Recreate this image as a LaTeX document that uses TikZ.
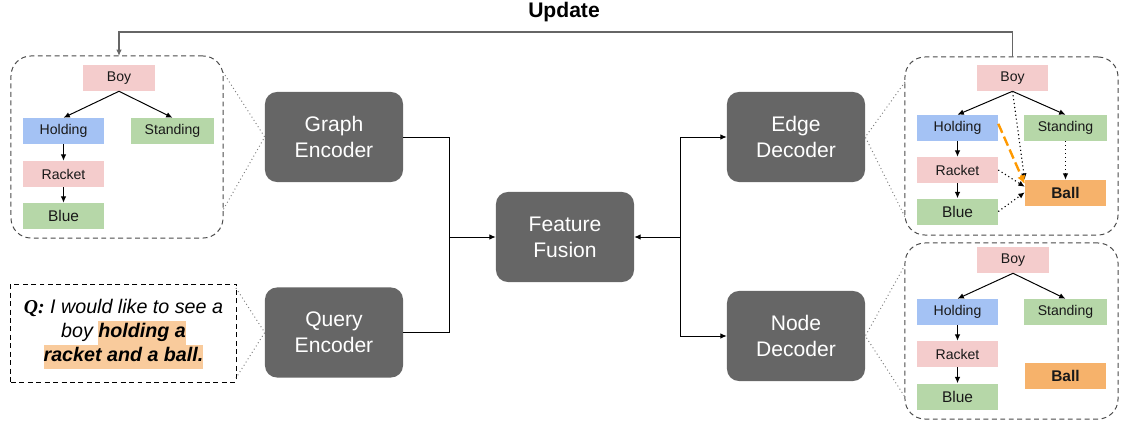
\documentclass[tikz,border=0pt]{standalone}
\usepackage{fontspec}
\setmainfont{Liberation Sans}
\newfontfamily\serifq{Liberation Serif}
\usepackage{tikz}
\usetikzlibrary{arrows.meta}
\definecolor{boypink}{HTML}{F4CCCC}
\definecolor{holdblue}{HTML}{A4C2F4}
\definecolor{attrgreen}{HTML}{B6D7A8}
\definecolor{ballorange}{HTML}{F6B26B}
\definecolor{hlorange}{HTML}{F9CB9C}
\definecolor{blockgray}{HTML}{666666}
\definecolor{framegray}{HTML}{4A4A4A}
\definecolor{predorange}{HTML}{FF9900}
\newcommand{\hlbox}[1]{{\setlength{\fboxsep}{0pt}\colorbox{hlorange}{\strut #1}}}

\begin{document}
\begin{tikzpicture}[>={Latex[length=4.5pt,width=4pt]}, x=0.025cm, y=-0.025cm,
	obj/.style = {minimum width=2.025cm, minimum height=0.65cm, inner sep=0pt, text=black!90, font=\fontsize{10}{12}\selectfont},
	pinkobj/.style = {obj, fill=boypink},
	blueobj/.style = {obj, fill=holdblue},
	greenobj/.style = {obj, fill=attrgreen},
	ballobj/.style = {obj, fill=ballorange, font=\fontsize{11}{13}\selectfont\bfseries},
	block/.style = {fill=blockgray, rounded corners=0.3cm, minimum width=3.45cm, minimum height=2.25cm, align=center, text=white, font=\fontsize{15}{18.3}\selectfont},
	frame/.style = {draw=framegray, dash pattern=on 3.5pt off 2.5pt, line width=0.7pt, rounded corners=0.5cm, inner sep=0pt, outer sep=0pt},
	zoomline/.style = {draw=gray, dotted, line width=0.7pt},
	rel/.style = {->, line width=0.7pt},
	guess/.style = {->, dotted, line width=0.8pt},
	pred/.style = {-{Latex[length=6pt,width=6pt]}, draw=predorange, line width=1.7pt, dash pattern=on 7pt off 3pt}
	]
	\useasboundingbox (0,0) rectangle (1121,423);
	%BLOCCHI
	\node[block] (genc) at (334,137) {Graph\\Encoder};
	\node[block] (qenc) at (334,332.5) {Query\\Encoder};
	\node[block] (fus) at (565,237) {Feature\\Fusion};
	\node[block] (edec) at (796,137) {Edge\\Decoder};
	\node[block] (ndec) at (796,336) {Node\\Decoder};
	\coordinate (join) at (449,237);
	\coordinate (split) at (680,237);
	\draw[line width=0.7pt] (genc.east) -| (join);
	\draw[line width=0.7pt] (qenc.east) -| (join);
	\draw[rel] (join) -- (fus.west);
	\draw[rel] (split) -- (fus.east);
	\draw[rel] (split) |- (edec.west);
	\draw[rel] (split) |- (ndec.west);
	%GRAFO INGRESSO
	\node[frame, minimum width=5.3cm, minimum height=4.55cm] (gframe) at (117,147) {};
	\node[pinkobj, minimum width=1.8cm] (gboy) at (119,78) {Boy};
	\node[blueobj] (ghold) at (63.5,131) {Holding};
	\node[greenobj, minimum width=2.075cm] (gstand) at (172.5,131) {Standing};
	\node[pinkobj] (grack) at (63.5,174) {Racket};
	\node[greenobj, font=\fontsize{11}{13}\selectfont] (gblue) at (63.5,216) {Blue};
	\draw[rel] (gboy.south) -- (ghold.north);
	\draw[rel] (gboy.south) -- (gstand.north);
	\draw[rel] (ghold) -- (grack);
	\draw[rel] (grack) -- (gblue);
	\coordinate (gz1) at (223,72);
	\coordinate (gz2) at (223,210);
	\draw[zoomline] (gz1) -- (genc.west) -- (gz2);
	%DOMANDA
	\node[draw, dash pattern=on 3.5pt off 2.5pt, line width=0.7pt, minimum width=5.625cm, minimum height=2.45cm, inner sep=0pt, outer sep=0pt] (qbox) at (123.5,333) {};
	\node[align=center, font=\fontsize{14}{17}\selectfont\itshape] (qtext) at (123.5,334) {{\serifq\bfseries Q:} I would like to see a\\boy \hlbox{\bfseries holding a}\\\hlbox{\bfseries racket and a ball.}};
	\coordinate (qz1) at (236,288);
	\coordinate (qz2) at (236,378);
	\draw[zoomline] (qz1) -- (qenc.west) -- (qz2);
	%ARCHI PREDETTI
	\node[frame, minimum width=5.325cm, minimum height=4.45cm] (eframe) at (1011.5,146) {};
	\node[pinkobj, minimum width=1.775cm] (eboy) at (1012.5,78) {Boy};
	\node[blueobj] (ehold) at (957.5,128) {Holding};
	\node[greenobj, minimum width=2.075cm] (estand) at (1065.5,128) {Standing};
	\node[pinkobj] (erack) at (957.5,170) {Racket};
	\node[greenobj, font=\fontsize{11}{13}\selectfont] (eblue) at (957.5,211.5) {Blue};
	\node[ballobj] (eball) at (1065.5,193) {Ball};
	\draw[rel] (eboy.south) -- (ehold.north);
	\draw[rel] (eboy.south) -- (estand.north);
	\draw[rel] (ehold) -- (erack);
	\draw[rel] (erack) -- (eblue);
	\draw[guess] (eboy.south) -- (eball.north west);
	\draw[guess] (estand.south) -- (eball.north);
	\draw[guess] (erack.east) -- ([yshift=-5pt]eball.north west);
	\draw[guess] (eblue.east) -- ([yshift=-9pt]eball.north west);
	\draw[pred] ([yshift=3pt]ehold.east) -- ([yshift=-3pt]eball.north west);
	\coordinate (ez1) at (905,82);
	\coordinate (ez2) at (905,217);
	\draw[zoomline] (ez1) -- (edec.east) -- (ez2);
	%NODI PREDETTI
	\node[frame, minimum width=5.325cm, minimum height=4.4cm] (nframe) at (1011.5,331) {};
	\node[pinkobj, minimum width=1.8cm] (nboy) at (1013,260) {Boy};
	\node[blueobj] (nhold) at (957.5,312) {Holding};
	\node[greenobj, minimum width=2.075cm] (nstand) at (1065.5,312) {Standing};
	\node[pinkobj] (nrack) at (957.5,354) {Racket};
	\node[greenobj, font=\fontsize{11}{13}\selectfont] (nblue) at (957.5,396.5) {Blue};
	\node[ballobj] (nball) at (1065.5,376) {Ball};
	\draw[rel] (nboy.south) -- (nhold.north);
	\draw[rel] (nboy.south) -- (nstand.north);
	\draw[rel] (nhold) -- (nrack);
	\draw[rel] (nrack) -- (nblue);
	\coordinate (nz1) at (905,265);
	\coordinate (nz2) at (905,397);
	\draw[zoomline] (nz1) -- (ndec.east) -- (nz2);
	%AGGIORNAMENTO
	\node[font=\fontsize{15}{18}\selectfont\bfseries] (upd) at (564,12) {Update};
	\coordinate (upline) at (564,32);
	\draw[->, draw=blockgray, line width=0.9pt] (eboy |- eframe.north) |- (upline) -| (gboy |- gframe.north);
\end{tikzpicture}
\end{document}
